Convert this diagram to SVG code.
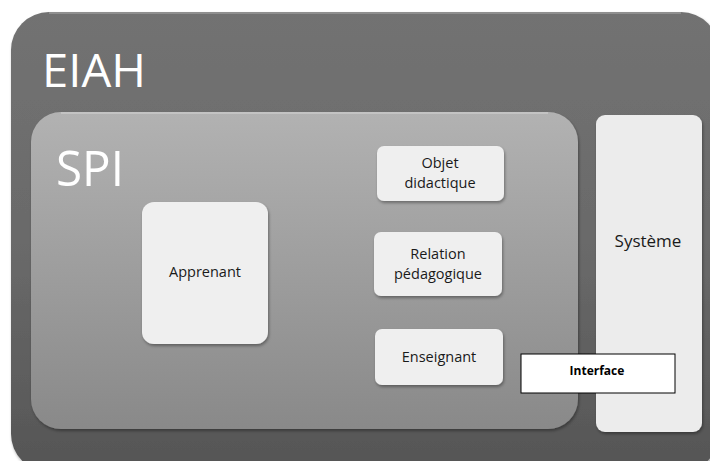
<svg xmlns="http://www.w3.org/2000/svg" width="710" height="461" viewBox="0 0 710 461">
<defs>
<linearGradient id="gOuter" x1="0" y1="0" x2="0" y2="1">
<stop offset="0" stop-color="#727272"/><stop offset="0.5" stop-color="#6a6a6a"/><stop offset="1" stop-color="#555555"/>
</linearGradient>
<linearGradient id="gSpi" x1="0" y1="0" x2="0" y2="1">
<stop offset="0" stop-color="#b2b2b2"/><stop offset="1" stop-color="#898989"/>
</linearGradient>
<filter id="sh" x="-10%" y="-10%" width="130%" height="130%">
<feDropShadow dx="1" dy="2" stdDeviation="1.5" flood-color="#000" flood-opacity="0.35"/>
</filter>
</defs>
<style>
.box{fill:#efefef;filter:url(#sh);}
.lbl{font-family:"Open Sans","Liberation Sans",sans-serif;fill:#1a1a1a;text-anchor:middle;}
.big{font-family:"Open Sans","Liberation Sans",sans-serif;fill:#ffffff;}
</style>
<rect width="710" height="461" fill="#ffffff"/>
<g id="eiah">
<rect x="11" y="12" width="708" height="460" rx="38" fill="url(#gOuter)" filter="url(#sh)"/>
<path d="M49 13 H681" stroke="#9a9a9a" stroke-width="1.5" fill="none"/>
<text class="big" x="42" y="87" font-size="45" textLength="104" lengthAdjust="spacingAndGlyphs">EIAH</text>
</g>
<g id="spi">
<rect x="31" y="112" width="547" height="317" rx="30" fill="url(#gSpi)" filter="url(#sh)"/>
<path d="M61 113 H548" stroke="#c8c8c8" stroke-width="1.5" fill="none"/>
<text class="big" x="56" y="186" font-size="49" textLength="68" lengthAdjust="spacingAndGlyphs">SPI</text>
</g>
<g id="systeme">
<rect class="box" x="596" y="115" width="106" height="317" rx="9" style="fill:#ececec"/>
<text class="lbl" x="648" y="247" font-size="17">Système</text>
</g>
<g id="apprenant">
<rect class="box" x="142" y="202" width="126" height="142" rx="12"/>
<text class="lbl" x="205" y="277" font-size="14.5">Apprenant</text>
</g>
<g id="objet">
<rect class="box" x="377" y="146" width="127" height="55" rx="7"/>
<text class="lbl" x="440" y="168" font-size="14.5">Objet</text>
<text class="lbl" x="440" y="188" font-size="14.5">didactique</text>
</g>
<g id="relation">
<rect class="box" x="374" y="232" width="128" height="64" rx="7"/>
<text class="lbl" x="438" y="259" font-size="14.5">Relation</text>
<text class="lbl" x="438" y="279" font-size="14.5">pédagogique</text>
</g>
<g id="enseignant">
<rect class="box" x="375" y="329" width="128" height="56" rx="7"/>
<text class="lbl" x="439" y="362" font-size="14.5">Enseignant</text>
</g>
<g id="interface">
<rect x="521" y="354" width="154" height="39" fill="#ffffff" stroke="#000" stroke-width="1"/>
<text x="597" y="375" font-family="'Open Sans','Liberation Sans',sans-serif" font-size="12" font-weight="bold" fill="#000" text-anchor="middle">Interface</text>
</g>
<g id="connectors"/>
</svg>
